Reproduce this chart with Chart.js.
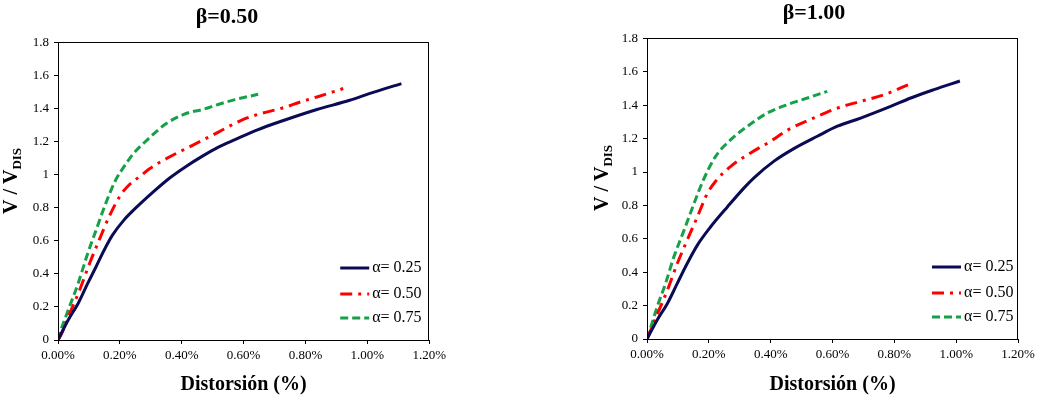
<!DOCTYPE html>
<html>
<head>
<meta charset="utf-8">
<title>V / VDIS vs Distorsión</title>
<script src="https://cdn.jsdelivr.net/npm/chart.js@4"></script>
<style>
    body { margin: 0; background: #fff; width: 1039px; height: 397px; overflow: hidden; position: relative; }
    .panel { position: absolute; top: 0; }
    #panel-b050 { left: 0; }
    #panel-b100 { left: 588px; }
</style>
</head>
<body>
<div class="panel" id="panel-b050"><canvas id="chart-b050" width="450" height="397"></canvas></div>
<div class="panel" id="panel-b100"><canvas id="chart-b100" width="451" height="397"></canvas></div>
<script>
// Curves: distortion (%) vs V / VDIS

const seriesLabels = ['α= 0.25', 'α= 0.50', 'α= 0.75'];
const xTickLabels = ['0.00%', '0.20%', '0.40%', '0.60%', '0.80%', '1.00%', '1.20%'];
const yTickLabels = ['0', '0.2', '0.4', '0.6', '0.8', '1', '1.2', '1.4', '1.6', '1.8'];

// beta = 0.50
const b050_a025_x = [0, 0.033, 0.065, 0.096, 0.123, 0.149, 0.176, 0.213, 0.255, 0.308, 0.361, 0.414, 0.467, 0.520, 0.572, 0.647, 0.731, 0.837, 0.943, 1.006, 1.110];
const b050_a025_y = [0, 0.121, 0.221, 0.342, 0.443, 0.543, 0.634, 0.725, 0.805, 0.896, 0.980, 1.050, 1.112, 1.168, 1.212, 1.273, 1.329, 1.394, 1.450, 1.490, 1.551];
const b050_a050_x = [0, 0.012, 0.038, 0.070, 0.102, 0.133, 0.165, 0.202, 0.232, 0.265, 0.297, 0.361, 0.414, 0.467, 0.520, 0.594, 0.647, 0.731, 0.784, 0.837, 0.922];
const b050_a050_y = [0, 0.040, 0.161, 0.302, 0.463, 0.604, 0.745, 0.876, 0.942, 0.990, 1.037, 1.108, 1.158, 1.208, 1.259, 1.330, 1.365, 1.406, 1.440, 1.470, 1.521];
const b050_a075_x = [0, 0.006, 0.033, 0.065, 0.096, 0.123, 0.154, 0.186, 0.213, 0.244, 0.287, 0.350, 0.414, 0.467, 0.520, 0.572, 0.647];
const b050_a075_y = [0, 0.040, 0.181, 0.342, 0.523, 0.664, 0.825, 0.966, 1.047, 1.128, 1.208, 1.309, 1.370, 1.394, 1.426, 1.454, 1.486];

// beta = 1.00
const b100_a025_x = [0, 0.033, 0.066, 0.098, 0.130, 0.163, 0.206, 0.260, 0.314, 0.346, 0.411, 0.475, 0.551, 0.616, 0.691, 0.788, 0.853, 0.928, 1.012];
const b100_a025_y = [0, 0.114, 0.213, 0.333, 0.452, 0.562, 0.672, 0.791, 0.905, 0.965, 1.065, 1.140, 1.214, 1.274, 1.323, 1.393, 1.443, 1.493, 1.545];
const b100_a050_x = [0, 0.039, 0.066, 0.098, 0.130, 0.163, 0.195, 0.222, 0.271, 0.335, 0.400, 0.454, 0.551, 0.616, 0.691, 0.767, 0.853];
const b100_a050_y = [0, 0.173, 0.293, 0.452, 0.592, 0.732, 0.871, 0.945, 1.034, 1.114, 1.184, 1.250, 1.333, 1.383, 1.423, 1.463, 1.529];
const b100_a075_x = [0, 0.006, 0.033, 0.060, 0.087, 0.120, 0.152, 0.182, 0.222, 0.271, 0.325, 0.389, 0.454, 0.519, 0.583];
const b100_a075_y = [0, 0.034, 0.193, 0.333, 0.492, 0.652, 0.811, 0.951, 1.094, 1.194, 1.274, 1.353, 1.403, 1.443, 1.483];

const seriesStyles = [
    { color: '#0b0b55', width: 3, dash: [] },
    { color: '#ff0000', width: 3, dash: [12, 6, 3, 6] },
    { color: '#16a048', width: 3, dash: [8, 4] }
];

const SERIF = "'Liberation Serif', 'Times New Roman', serif";

function toPoints(xs, ys) {
    return xs.map((x, i) => ({ x: x, y: ys[i] }));
}

// Frame around the plot, legend inside the plot and the V / VDIS axis title
const decorPlugin = {
    id: 'decor',
    afterDraw(chart, args, opts) {
        const { ctx, chartArea: a } = chart;
        ctx.save();

        ctx.strokeStyle = '#000';
        ctx.lineWidth = 1;
        ctx.strokeRect(Math.round(a.left) + 0.5, Math.round(a.top) + 0.5,
            Math.round(a.right - a.left) - 1, Math.round(a.bottom - a.top));

        // legend
        const rowOffsets = [72, 46, 22];
        ctx.font = '16px ' + SERIF;
        ctx.textBaseline = 'middle';
        chart.data.datasets.forEach((ds, i) => {
            const y = a.bottom - rowOffsets[i];
            ctx.beginPath();
            ctx.strokeStyle = ds.borderColor;
            ctx.lineWidth = ds.borderWidth;
            ctx.setLineDash(ds.borderDash || []);
            ctx.moveTo(a.right - opts.legendRight, y);
            ctx.lineTo(a.right - opts.legendRight + 29, y);
            ctx.stroke();
            ctx.setLineDash([]);
            ctx.fillStyle = '#000';
            ctx.textAlign = 'left';
            ctx.fillText(ds.label, a.right - opts.legendRight + 32, y);
        });

        // y title with subscript
        ctx.translate(opts.yTitleX, opts.yTitleY);
        ctx.rotate(-Math.PI / 2);
        ctx.fillStyle = '#000';
        ctx.textBaseline = 'alphabetic';
        const main = 'V / V';
        const sub = 'DIS';
        ctx.font = 'bold 20px ' + SERIF;
        const wMain = ctx.measureText(main).width;
        ctx.font = 'bold 13px ' + SERIF;
        const wSub = ctx.measureText(sub).width;
        const start = -(wMain + wSub) / 2;
        ctx.font = 'bold 20px ' + SERIF;
        ctx.textAlign = 'left';
        ctx.fillText(main, start, 7);
        ctx.font = 'bold 13px ' + SERIF;
        ctx.fillText(sub, start + wMain, 11);

        ctx.restore();
    }
};

function buildChart(canvasId, title, seriesX, seriesY, layout) {
    const ctx = document.getElementById(canvasId);

    const datasets = seriesLabels.map((label, i) => ({
        label: label,
        data: toPoints(seriesX[i], seriesY[i]),
        borderColor: seriesStyles[i].color,
        backgroundColor: seriesStyles[i].color,
        borderWidth: seriesStyles[i].width,
        borderDash: seriesStyles[i].dash,
        pointRadius: 0,
        cubicInterpolationMode: 'monotone',
        fill: false
    }));

    return new Chart(ctx, {
        type: 'line',
        data: { datasets: datasets },
        options: {
            responsive: false,
            animation: false,
            layout: { padding: { left: layout.padLeft, right: layout.padRight, top: 0, bottom: 0 } },
            plugins: {
                legend: { display: false },
                tooltip: { enabled: false },
                title: {
                    display: true,
                    text: title,
                    color: '#000',
                    font: { family: SERIF, size: 22, weight: 'bold' },
                    padding: { top: layout.titleTop, bottom: layout.titleBottom }
                },
                decor: {
                    legendRight: layout.legendRight,
                    yTitleX: layout.yTitleX,
                    yTitleY: layout.yTitleY
                }
            },
            scales: {
                x: {
                    type: 'linear',
                    min: 0,
                    max: 1.2,
                    afterBuildTicks: (scale) => {
                        scale.ticks = xTickLabels.map((t, i) => ({ value: i * 0.2 }));
                    },
                    ticks: {
                        color: '#000',
                        font: { family: SERIF, size: 13 },
                        padding: 4,
                        maxRotation: 0,
                        callback: (v, i) => xTickLabels[i]
                    },
                    grid: { display: true, drawOnChartArea: false, tickLength: 4, color: '#000' },
                    border: { display: true, color: '#000', width: 1 },
                    title: {
                        display: true,
                        text: 'Distorsión (%)',
                        color: '#000',
                        font: { family: SERIF, size: 20, weight: 'bold' },
                        padding: { top: 0, bottom: 0 }
                    },
                    afterFit: (scale) => { scale.height = layout.xHeight; }
                },
                y: {
                    type: 'linear',
                    min: 0,
                    max: 1.8,
                    afterBuildTicks: (scale) => {
                        scale.ticks = yTickLabels.map((t, i) => ({ value: i * 0.2 }));
                    },
                    ticks: {
                        color: '#000',
                        font: { family: SERIF, size: 13 },
                        padding: 5,
                        callback: (v, i) => yTickLabels[i]
                    },
                    grid: { display: true, drawOnChartArea: false, tickLength: 4, color: '#000' },
                    border: { display: true, color: '#000', width: 1 },
                    afterFit: (scale) => { scale.width = layout.yWidth; }
                }
            }
        },
        plugins: [decorPlugin]
    });
}

document.addEventListener('DOMContentLoaded', () => {
    buildChart('chart-b050', 'β=0.50',
        [b050_a025_x, b050_a050_x, b050_a075_x],
        [b050_a025_y, b050_a050_y, b050_a075_y],
        { padLeft: 18, padRight: 14, titleTop: 4, titleBottom: 12, xHeight: 57, yWidth: 40,
          legendRight: 89, yTitleX: 10, yTitleY: 181 });

    buildChart('chart-b100', 'β=1.00',
        [b100_a025_x, b100_a050_x, b100_a075_x],
        [b100_a025_y, b100_a050_y, b100_a075_y],
        { padLeft: 22, padRight: 21, titleTop: 0, titleBottom: 12, xHeight: 58, yWidth: 37,
          legendRight: 86, yTitleX: 13, yTitleY: 178 });
});
</script>
</body>
</html>
